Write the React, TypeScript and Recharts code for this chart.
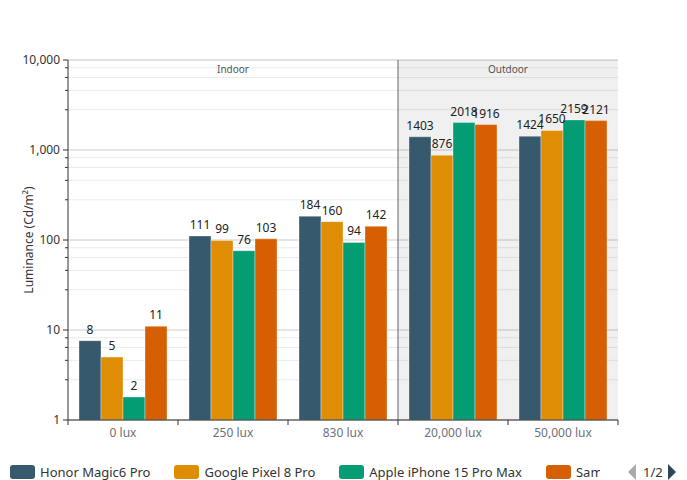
import React from "react";
import {
  BarChart,
  Bar,
  XAxis,
  YAxis,
  CartesianGrid,
  ReferenceArea,
  ReferenceLine,
  LabelList,
} from "recharts";

const categories = ["0 lux", "250 lux", "830 lux", "20,000 lux", "50,000 lux"];
const honor = [7.6, 111, 184, 1403, 1424];
const google = [5, 99, 160, 876, 1650];
const apple = [1.8, 76, 94, 2018, 2159];
const samsung = [11, 103, 142, 1916, 2121];

const seriesNames = [
  "Honor Magic6 Pro",
  "Google Pixel 8 Pro",
  "Apple iPhone 15 Pro Max",
  "Samsung Galaxy S24 Ultra",
];
const seriesKeys = ["honor", "google", "apple", "samsung"];
const seriesColors = ["#37596d", "#e08d06", "#049c73", "#d55f02"];

const majorTicks = [1, 10, 100, 1000, 10000];
const minorTicks = [
  2.8, 4.6, 6.4, 8.2,
  28, 46, 64, 82,
  280, 460, 640, 820,
  2800, 4600, 6400, 8200,
];
const allTicks = [...majorTicks, ...minorTicks].sort((a, b) => a - b);

const data = categories.map((c, i) => ({
  name: c,
  honor: honor[i],
  google: google[i],
  apple: apple[i],
  samsung: samsung[i],
}));

const FONT = "'Noto Sans', 'DejaVu Sans', sans-serif";

const YTick = (props: any) => {
  const { x, y, payload } = props;
  const isMajor = majorTicks.includes(payload.value);
  return (
    <g>
      <line x1={x - (isMajor ? 5 : 3)} x2={x} y1={y} y2={y} stroke="#333" strokeWidth={1} />
      {isMajor && (
        <text x={x - 8} y={y} dy={4} textAnchor="end" fontSize={12} fill="#333" fontFamily={FONT}>
          {payload.value.toLocaleString("en-US")}
        </text>
      )}
    </g>
  );
};

const XTick = (props: any) => {
  const { x, y, payload, index, width, visibleTicksCount } = props;
  const n = visibleTicksCount || categories.length;
  const half = width ? width / n / 2 : 55;
  return (
    <g>
      <line x1={x - half} x2={x - half} y1={y} y2={y + 5} stroke="#333" />
      {index === n - 1 && <line x1={x + half} x2={x + half} y1={y} y2={y + 5} stroke="#333" />}
      <text x={x} y={y + 17} textAnchor="middle" fontSize={12} fill="#6e7079" fontFamily={FONT}>
        {payload.value}
      </text>
    </g>
  );
};

const Legend = () => (
  <div
    style={{
      position: "absolute",
      left: 10,
      top: 462,
      width: 590,
      height: 20,
      overflow: "hidden",
      whiteSpace: "nowrap",
      display: "flex",
      alignItems: "center",
      fontFamily: FONT,
      fontSize: 13,
      color: "#333",
    }}
  >
    {seriesNames.map((n, i) => (
      <div key={n} style={{ display: "flex", alignItems: "center", marginRight: 24, flexShrink: 0 }}>
        <div
          style={{
            width: 25,
            height: 14,
            borderRadius: 3,
            background: seriesColors[i],
            marginRight: 5,
          }}
        />
        <span>{n}</span>
      </div>
    ))}
  </div>
);

const Pager = () => (
  <svg style={{ position: "absolute", left: 622, top: 462 }} width={64} height={20}>
    <polygon points="6,10 14,2 14,18" fill="#aaa" />
    <text x={21} y={15} fontSize={13} fill="#333" fontFamily={FONT}>
      1/2
    </text>
    <polygon points="46,2 54,10 46,18" fill="#2f4554" />
  </svg>
);

export default function App() {
  return (
    <div style={{ position: "absolute", left: 0, top: 0, width: 687, height: 480, background: "#fff" }}>
      <BarChart
        width={687}
        height={480}
        data={data}
        margin={{ top: 60, right: 69, bottom: 30, left: 0 }}
        barCategoryGap="10%"
        barGap={0}
      >
        <ReferenceArea
          x1="20,000 lux"
          x2="50,000 lux"
          yAxisId="y"
          fill="#000"
          fillOpacity={0.06}
          stroke="none"
          label={{ value: "Outdoor", position: "insideTop", offset: 6, fontSize: 10, fill: "#555", fontFamily: FONT }}
        />
        <ReferenceArea
          x1="0 lux"
          x2="830 lux"
          yAxisId="y"
          fill="none"
          fillOpacity={0}
          stroke="none"
          label={{ value: "Indoor", position: "insideTop", offset: 6, fontSize: 10, fill: "#555", fontFamily: FONT }}
        />
        <CartesianGrid yAxisId="gMinor" vertical={false} stroke="#ebebeb" />
        <CartesianGrid yAxisId="gMajor" vertical={false} stroke="#cccccc" />
        <XAxis
          dataKey="name"
          height={30}
          axisLine={{ stroke: "#333" }}
          tickLine={false}
          tickSize={0}
          tickMargin={0}
          tick={<XTick />}
          interval={0}
        />
        <YAxis yAxisId="gMinor" hide orientation="right" width={0} type="number" scale="log" domain={[1, 10000]} allowDataOverflow ticks={minorTicks} interval={0} />
        <YAxis yAxisId="gMajor" hide orientation="right" width={0} type="number" scale="log" domain={[1, 10000]} allowDataOverflow ticks={majorTicks} interval={0} />
        <YAxis
          yAxisId="y"
          type="number"
          scale="log"
          domain={[1, 10000]}
          allowDataOverflow
          ticks={allTicks}
          interval={0}
          width={68}
          axisLine={{ stroke: "#333" }}
          tickLine={false}
          tickSize={0}
          tickMargin={0}
          tick={<YTick />}
          label={{
            content: () => (
              <text
                transform="translate(28,240) rotate(-90)"
                textAnchor="middle"
                dominantBaseline="central"
                fontSize={12}
                fill="#333"
                fontFamily={FONT}
              >
                Luminance (Cd/m²)
              </text>
            ),
          }}
        />
        <ReferenceLine x="20,000 lux" yAxisId="y" position="start" stroke="#666" strokeWidth={1} />
        {seriesKeys.map((k, i) => (
          <Bar
            key={k}
            dataKey={k}
            yAxisId="y"
            name={seriesNames[i]}
            fill={seriesColors[i]}
            stroke="rgba(255,255,255,0.35)"
            strokeWidth={1}
            isAnimationActive={false}
          >
            <LabelList
              dataKey={k}
              position="top"
              offset={7}
              formatter={(v: any) => Math.round(Number(v))}
              fontSize={12}
              fill="#222"
              fontFamily={FONT}
            />
          </Bar>
        ))}
      </BarChart>
      <Legend />
      <Pager />
    </div>
  );
}
